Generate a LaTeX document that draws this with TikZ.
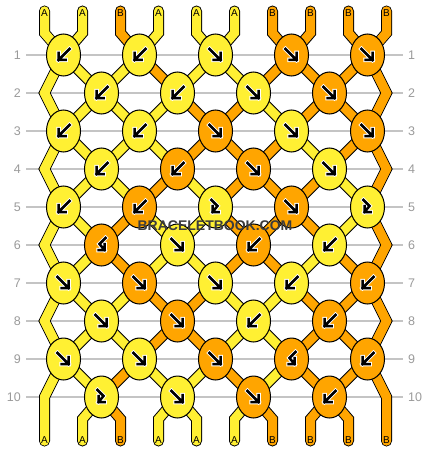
\documentclass[tikz,border=0pt]{standalone}
\usepackage{fontspec}
\setmainfont{Liberation Sans}
\usetikzlibrary{shapes.geometric}
\pgfdeclarelayer{lines}
\pgfdeclarelayer{strands}
\pgfsetlayers{lines,strands,main}
\definecolor{yel}{HTML}{FFF033}
\definecolor{ora}{HTML}{FFA500}
\definecolor{rowgray}{HTML}{C4C4C4}
\definecolor{numgray}{HTML}{9A9A9A}
\definecolor{wmgray}{HTML}{3C3C3C}
% knot marks: forward, backward, forward-backward, backward-forward
\def\pfw{(-6,-6) -- (5,5) (5,-2) -- (5,5) -- (-2,5)}
\def\pbw{(6,-6) -- (-5,5) (-5,-2) -- (-5,5) -- (2,5)}
\def\pfb{(-4,-7) -- (2,-1) -- (-3,5) (-3,-1) -- (-3,5) -- (3,5)}
\def\pbf{(4,-7) -- (-2,-1) -- (3,5) (3,-1) -- (3,5) -- (-3,5)}
\tikzset{
  knot/.style={ellipse, draw=black, line width=1pt, minimum width=34pt, minimum height=42pt, inner sep=0pt},
  strandout/.style={line width=11pt, draw=black, line cap=round, line join=miter},
  strandin/.style={line width=9pt, line cap=round, line join=miter},
  rowline/.style={draw=rowgray, line width=1.3pt},
  rownum/.style={text=numgray, font=\fontsize{12.5}{12.5}\selectfont, inner xsep=5pt, inner ysep=0pt},
  endlabel/.style={font=\fontsize{10}{10}\selectfont, inner sep=0pt},
  arrowback/.style={draw=white, line width=4.5pt, line cap=rect, line join=miter},
  arrowfront/.style={draw=black, line width=2.5pt, line cap=rect, line join=miter}
}

\begin{document}
\begin{tikzpicture}[x=1pt, y=-1pt]
\useasboundingbox (0,0) rectangle (430,452);

% knots
\foreach \rw/\knots in {
  1/{\pbw/yel,\pbw/yel,\pfw/yel,\pfw/ora,\pfw/ora},
  2/{\pbw/yel,\pbw/yel,\pfw/yel,\pfw/ora},
  3/{\pbw/yel,\pbw/yel,\pfw/ora,\pfw/yel,\pfw/ora},
  4/{\pbw/yel,\pbw/ora,\pfw/ora,\pfw/yel},
  5/{\pbw/yel,\pbw/ora,\pfb/yel,\pfw/ora,\pfb/yel},
  6/{\pbf/ora,\pfw/yel,\pbw/ora,\pbw/yel},
  7/{\pfw/yel,\pfw/ora,\pfw/yel,\pbw/yel,\pbw/ora},
  8/{\pfw/yel,\pfw/ora,\pbw/yel,\pbw/ora},
  9/{\pfw/yel,\pfw/yel,\pfw/ora,\pbf/ora,\pbw/ora},
  10/{\pfb/yel,\pfw/yel,\pfw/ora,\pbw/ora}} {
  \foreach \ktype/\kcol [count=\kn] in \knots {
    \pgfmathsetmacro\kx{mod(\rw,2) ? 76*\kn-12.5 : 76*\kn+25.5}
    \node[knot, fill=\kcol] (k-\rw-\kn) at (\kx, 17+38*\rw) {};
    \draw[arrowback, shift={(k-\rw-\kn)}] \ktype;
    \draw[arrowfront, shift={(k-\rw-\kn)}] \ktype;
  }
}
\foreach \rw in {2,4,...,10} {
  \coordinate (k-\rw-0) at (44.5, 17+38*\rw);
  \coordinate (k-\rw-5) at (386.5, 17+38*\rw);
}

% strand ends
\foreach \p/\ltop/\lbot in {1/A/A, 2/A/A, 3/B/B, 4/A/A, 5/A/A, 6/A/A, 7/B/B, 8/B/B, 9/B/B, 10/B/B} {
  \coordinate (t\p) at (6.5+38*\p, 11);
  \coordinate (u\p) at (6.5+38*\p, 33);
  \coordinate (d\p) at (6.5+38*\p, 419);
  \coordinate (b\p) at (6.5+38*\p, 441);
  \node[endlabel] (lt\p) at (6.5+38*\p, 13) {\ltop};
  \node[endlabel] (lb\p) at (6.5+38*\p, 440) {\lbot};
}

% row numbers
\foreach \rw in {1,...,10} {
  \node[rownum, anchor=east] (nl\rw) at (26, 17+38*\rw) {\rw};
  \node[rownum, anchor=west] (nr\rw) at (403, 17+38*\rw) {\rw};
  \begin{pgfonlayer}{lines}
    \draw[rowline] (nl\rw) -- (nr\rw);
  \end{pgfonlayer}
}

\begin{pgfonlayer}{strands}
\foreach \p in {1,...,10} {
  \pgfmathtruncatemacro\co{(\p+1)/2}
  \pgfmathtruncatemacro\ce{\p/2}
  \draw[strandout] (t\p) -- (u\p) -- (k-1-\co.center) -- (k-2-\ce.center) -- (k-3-\co.center) -- (k-4-\ce.center) -- (k-5-\co.center) -- (k-6-\ce.center) -- (k-7-\co.center) -- (k-8-\ce.center) -- (k-9-\co.center) -- (k-10-\ce.center) -- (d\p) -- (b\p);
}
\foreach \rw/\cols in {
  0/{yel,yel,ora,yel,yel,yel,ora,ora,ora,ora},
  1/{yel,yel,yel,ora,yel,yel,ora,ora,ora,ora},
  2/{yel,yel,yel,yel,ora,ora,yel,ora,ora,ora},
  3/{yel,yel,yel,yel,ora,ora,ora,yel,ora,ora},
  4/{yel,yel,yel,ora,yel,ora,ora,ora,yel,ora},
  5/{yel,yel,ora,yel,yel,ora,ora,ora,yel,ora},
  6/{yel,yel,ora,yel,yel,ora,ora,yel,ora,ora},
  7/{yel,yel,yel,ora,ora,yel,yel,ora,ora,ora},
  8/{yel,yel,yel,ora,ora,yel,yel,ora,ora,ora},
  9/{yel,yel,ora,yel,yel,ora,yel,ora,ora,ora},
  10/{yel,yel,ora,yel,yel,yel,ora,ora,ora,ora}} {
  \foreach \scol [count=\p] in \cols {
    \pgfmathtruncatemacro\ca{mod(\rw,2) ? (\p+1)/2 : \p/2}
    \pgfmathtruncatemacro\cb{mod(\rw,2) ? \p/2 : (\p+1)/2}
    \pgfmathtruncatemacro\rn{\rw+1}
    \ifnum\rw=0
      \draw[strandin, draw=\scol] (t\p) -- (u\p) -- (k-1-\cb.center);
    \else\ifnum\rw=10
      \draw[strandin, draw=\scol] (k-10-\ca.center) -- (d\p) -- (b\p);
    \else
      \draw[strandin, draw=\scol] (k-\rw-\ca.center) -- (k-\rn-\cb.center);
    \fi\fi
  }
}
% edge strands again, for sharp corners
\foreach \p/\scol in {1/yel, 10/ora} {
  \pgfmathtruncatemacro\co{(\p+1)/2}
  \pgfmathtruncatemacro\ce{\p/2}
  \draw[strandin, draw=\scol] (t\p) -- (u\p) -- (k-1-\co.center) -- (k-2-\ce.center) -- (k-3-\co.center) -- (k-4-\ce.center) -- (k-5-\co.center) -- (k-6-\ce.center) -- (k-7-\co.center) -- (k-8-\ce.center) -- (k-9-\co.center) -- (k-10-\ce.center) -- (d\p) -- (b\p);
}
\end{pgfonlayer}

\node[font=\bfseries\fontsize{14}{14}\selectfont, text=wmgray, inner sep=0pt] (wm) at (215,226) {BRACELETBOOK.COM};
\end{tikzpicture}
\end{document}
